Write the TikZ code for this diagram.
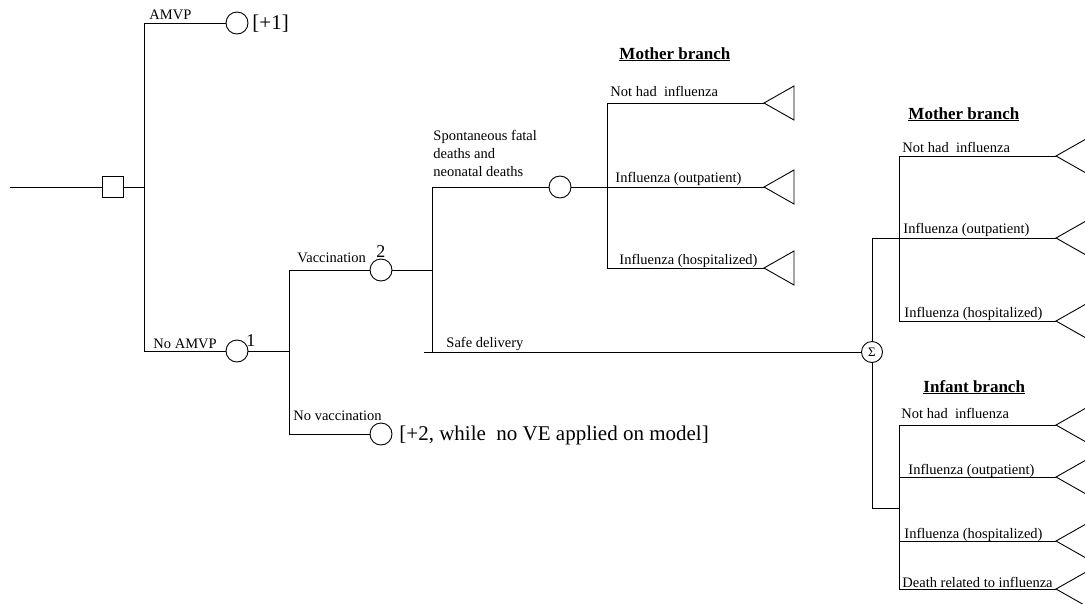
\documentclass[tikz,border=0pt]{standalone}
\usepackage{fontspec}
\setmainfont{Liberation Serif}
\begin{document}
\begin{tikzpicture}[x=1pt,y=-1pt, line width=0.9pt,
  tlabel/.style={anchor=base west, inner sep=0pt, font=\fontsize{14.5}{18}\selectfont},
  bigtext/.style={anchor=base west, inner sep=0pt, font=\fontsize{21}{24}\selectfont},
  numtext/.style={anchor=base west, inner sep=0pt, font=\fontsize{18}{20}\selectfont},
  headtext/.style={anchor=base west, inner sep=0pt, font=\fontsize{17}{20}\selectfont\bfseries},
  chance/.style={circle, draw, minimum size=22pt, inner sep=0pt},
  decision/.style={rectangle, draw, minimum size=21pt, inner sep=0pt},
  sumnode/.style={circle, draw, minimum size=21pt, inner sep=0pt, font=\fontsize{13}{14}\selectfont},
  terminal/.style={draw, line join=miter},
]
\useasboundingbox (0,0) rectangle (1085,603);
\clip (0,0) rectangle (1085,603);

% root decision
\coordinate (start) at (10,187);
\node[decision] (dec) at (113,187) {};
\coordinate (j0) at (144,187);
\coordinate (j0t) at (144,23);
\coordinate (j0b) at (144,351);
\node[chance] (c0) at (237,23) {};
\node[chance] (c1) at (237,351) {};
\draw (start) -- (dec.west);
\draw (dec.east) -- (j0);
\draw (j0t) -- (j0b);
\draw (j0t) -- (c0.west);
\draw (j0b) -- (c1.west);
\node[tlabel] (lamvp) at (149,19) {AMVP};
\node[bigtext] (lp1) at (252,29) {[+1]};
\node[tlabel] (lnoamvp) at (153,348) {No AMVP};
\node[numtext] (n1) at (246,346) {1};

% vaccination split
\coordinate (j1) at (289,351);
\coordinate (j1t) at (289,270);
\coordinate (j1b) at (289,434);
\node[chance] (c2) at (381,270) {};
\node[chance] (c3) at (381,434) {};
\draw (c1.east) -- (j1);
\draw (j1t) -- (j1b);
\draw (j1t) -- (c2.west);
\draw (j1b) -- (c3.west);
\node[tlabel] (lvac) at (297,262) {Vaccination};
\node[numtext] (n2) at (376,257) {2};
\node[tlabel] (lnovac) at (293,420) {No vaccination};
\node[bigtext] (lp2) at (399,440) {[+2, while~ no VE applied on model]};

% outcome split
\coordinate (j2) at (432,270);
\coordinate (j2t) at (432,187);
\coordinate (j2b) at (432,352);
\coordinate (sd) at (424,352);
\draw (c2.east) -- (j2);
\draw (j2t) -- (j2b);
\node[chance] (c4) at (560,187) {};
\draw (j2t) -- (c4.west);
\node[tlabel, anchor=north west, align=left] (lspont) at (433,130) {Spontaneous fatal\\deaths and\\neonatal deaths};
\node[sumnode] (sum) at (872,352) {Σ};
\draw (sd) -- (sum.west);
\node[tlabel] (lsafe) at (446,347) {Safe delivery};

% mother branch (after fetal/neonatal death)
\node[headtext] (hm1) at (619,59) {\underline{Mother branch}};
\coordinate (m1j) at (607,187);
\coordinate (m1t) at (607,103);
\coordinate (m1b) at (607,268);
\draw (c4.east) -- (m1j);
\draw (m1t) -- (m1b);
\coordinate (t1) at (764,103);
\coordinate (t2) at (764,187);
\coordinate (t3) at (764,268);
\draw (m1t) -- (t1);
\draw (m1j) -- (t2);
\draw (m1b) -- (t3);
\foreach \t in {t1,t2,t3} \draw[terminal] (\t) -- ++(30,-17) -- ++(0,34) -- cycle;
\node[tlabel] (lm1a) at (610,96) {Not had~ influenza};
\node[tlabel] (lm1b) at (615,182) {Influenza (outpatient)};
\node[tlabel] (lm1c) at (619,264) {Influenza (hospitalized)};

% mother branch (after safe delivery)
\node[headtext] (hm2) at (908,119) {\underline{Mother branch}};
\coordinate (sm) at (872,238);
\coordinate (rmt) at (899,156);
\coordinate (rmb) at (899,321);
\coordinate (r1) at (1056,156);
\coordinate (r2) at (1056,238);
\coordinate (r3) at (1056,321);
\draw (sum.north) -- (sm) -- (r2);
\draw (rmt) -- (rmb);
\draw (rmt) -- (r1);
\draw (rmb) -- (r3);
\foreach \t in {r1,r2,r3} \draw[terminal] (\t) -- ++(30,-17) -- ++(0,34) -- cycle;
\node[tlabel] (lm2a) at (902,152) {Not had~ influenza};
\node[tlabel] (lm2b) at (903,233) {Influenza (outpatient)};
\node[tlabel] (lm2c) at (904,317) {Influenza (hospitalized)};

% infant branch
\node[headtext] (hi) at (923,392) {\underline{Infant branch}};
\coordinate (si) at (872,508);
\coordinate (ij) at (899,508);
\coordinate (it) at (899,425);
\coordinate (ib) at (899,589);
\coordinate (ia) at (899,477);
\coordinate (ic) at (899,541);
\coordinate (i1) at (1056,425);
\coordinate (i2) at (1056,477);
\coordinate (i3) at (1056,541);
\coordinate (i4) at (1056,589);
\draw (sum.south) -- (si) -- (ij);
\draw (it) -- (ib);
\draw (it) -- (i1);
\draw (ia) -- (i2);
\draw (ic) -- (i3);
\draw (ib) -- (i4);
\foreach \t in {i1,i2,i3,i4} \draw[terminal] (\t) -- ++(30,-17) -- ++(0,34) -- cycle;
\node[tlabel] (li1) at (901,418) {Not had~ influenza};
\node[tlabel] (li2) at (908,474) {Influenza (outpatient)};
\node[tlabel] (li3) at (904,538) {Influenza (hospitalized)};
\node[tlabel] (li4) at (902,587) {Death related to influenza};
\end{tikzpicture}
\end{document}
